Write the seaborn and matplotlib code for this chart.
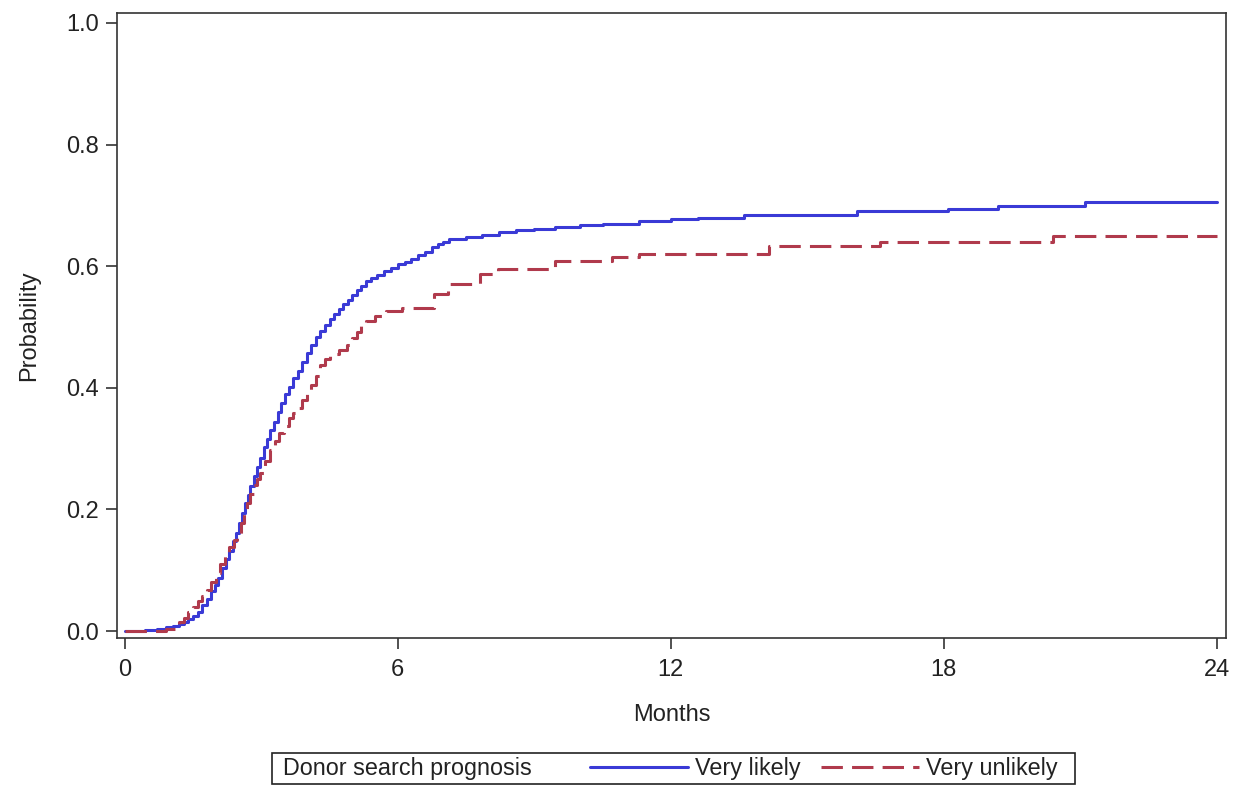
import numpy as np
import pandas as pd
import matplotlib
matplotlib.use("Agg")
import matplotlib.pyplot as plt
import seaborn as sns
from matplotlib.patches import Rectangle

# ---- data ----
likely_months = [0, 0.45, 0.7, 0.9, 1.05, 1.2, 1.3, 1.4, 1.5, 1.6, 1.7, 1.8, 1.9, 1.98,
                 2.06, 2.14, 2.22, 2.3, 2.38, 2.45, 2.52, 2.58, 2.64, 2.7, 2.76, 2.83,
                 2.9, 2.97, 3.05, 3.12, 3.2, 3.28, 3.36, 3.44, 3.52, 3.6, 3.7, 3.8, 3.9,
                 4.0, 4.1, 4.2, 4.3, 4.4, 4.5, 4.6, 4.7, 4.8, 4.9, 5.0, 5.1, 5.2, 5.3,
                 5.42, 5.55, 5.7, 5.85, 6.0, 6.15, 6.3, 6.45, 6.6, 6.75, 6.88, 7.0, 7.13,
                 7.5, 7.86, 8.23, 8.6, 9.0, 9.45, 10.0, 10.5, 11.3, 12.0, 12.6, 13.6,
                 16.1, 18.1, 19.2, 21.1, 24.0]
likely_prob = [0, 0.002, 0.004, 0.006, 0.009, 0.012, 0.015, 0.02, 0.025, 0.032, 0.042,
               0.052, 0.065, 0.075, 0.088, 0.103, 0.118, 0.132, 0.148, 0.162, 0.178,
               0.194, 0.21, 0.224, 0.238, 0.255, 0.27, 0.285, 0.302, 0.316, 0.33, 0.344,
               0.36, 0.375, 0.39, 0.402, 0.416, 0.428, 0.442, 0.457, 0.47, 0.484, 0.494,
               0.503, 0.513, 0.522, 0.53, 0.538, 0.545, 0.552, 0.561, 0.568, 0.575,
               0.58, 0.586, 0.592, 0.597, 0.603, 0.607, 0.612, 0.618, 0.624, 0.631,
               0.636, 0.64, 0.644, 0.648, 0.651, 0.656, 0.659, 0.661, 0.664, 0.667,
               0.670, 0.674, 0.677, 0.680, 0.684, 0.690, 0.694, 0.699, 0.706, 0.706]

unlikely_months = [0, 0.9, 1.1, 1.2, 1.3, 1.4, 1.5, 1.6, 1.7, 1.8, 1.9, 2.0, 2.1, 2.2,
                   2.3, 2.4, 2.47, 2.55, 2.62, 2.69, 2.76, 2.83, 2.9, 2.98, 3.08, 3.2,
                   3.3, 3.4, 3.49, 3.6, 3.7, 3.78, 3.9, 4.0, 4.1, 4.2, 4.3, 4.4, 4.5,
                   4.7, 4.88, 5.0, 5.1, 5.2, 5.31, 5.5, 5.75, 6.1, 6.8, 7.1, 7.8, 8.2,
                   9.45, 10.7, 11.3, 14.15, 16.6, 20.4, 24.0]
unlikely_prob = [0, 0.004, 0.01, 0.015, 0.022, 0.032, 0.04, 0.05, 0.058, 0.067, 0.08,
                 0.095, 0.111, 0.125, 0.138, 0.15, 0.158, 0.178, 0.195, 0.21, 0.226,
                 0.24, 0.25, 0.26, 0.28, 0.298, 0.312, 0.325, 0.337, 0.35, 0.358, 0.366,
                 0.38, 0.392, 0.405, 0.42, 0.437, 0.448, 0.455, 0.462, 0.471, 0.482,
                 0.492, 0.502, 0.51, 0.518, 0.527, 0.532, 0.554, 0.571, 0.587, 0.596,
                 0.609, 0.615, 0.620, 0.634, 0.640, 0.650, 0.650]

group_labels = ["Very likely", "Very unlikely"]
legend_title = "Donor search prognosis"
x_ticks = [0, 6, 12, 18, 24]
y_ticks = [0.0, 0.2, 0.4, 0.6, 0.8, 1.0]

# ---- style ----
sns.set_theme(style="ticks")
plt.rcParams["font.family"] = ["Liberation Sans", "DejaVu Sans"]
FS = 17
edge = "#333333"
txt = "#222222"

fig = plt.figure(figsize=(12.39, 7.86), dpi=100)
ax = fig.add_axes([117 / 1239, 1 - 638 / 786, (1226 - 117) / 1239, (638 - 13) / 786])

blue = "#3a3ad6"
red = "#b03a4c"

sns.lineplot(x=likely_months, y=likely_prob, ax=ax, color=blue, linewidth=2.2,
             drawstyle="steps-post", legend=False, label=group_labels[0])
sns.lineplot(x=unlikely_months, y=unlikely_prob, ax=ax, color=red, linewidth=2.2,
             drawstyle="steps-post", linestyle=(0, (7, 3)), legend=False,
             label=group_labels[1])

ax.set_xlim(-0.17, 24.2)
ax.set_ylim(-0.0115, 1.0164)
ax.set_xticks(x_ticks)
ax.set_xticklabels([str(v) for v in x_ticks])
ax.set_yticks(y_ticks)
ax.set_yticklabels([f"{v:.1f}" for v in y_ticks])
ax.tick_params(axis="both", direction="out", length=8, width=1.2, color=edge,
               labelsize=FS, labelcolor=txt)
ax.tick_params(axis="y", pad=5)
ax.tick_params(axis="x", pad=7)
for s in ax.spines.values():
    s.set_visible(True)
    s.set_color(edge)
    s.set_linewidth(1.2)
ax.set_xlabel("Months", fontsize=FS, color=txt, labelpad=17)
ax.set_ylabel("Probability", fontsize=FS, color=txt, labelpad=19)
ax.grid(False)

# ---- legend (title placed inline, boxed) ----
lfs = 16.8
px = lfs * 100 / 72
handles = ax.get_lines()[:2]
leg = fig.legend(handles, group_labels, loc="center left",
                 bbox_to_anchor=(590 / 1239, 1 - 769 / 786), frameon=False, ncol=2,
                 fontsize=lfs, handlelength=98 / px, handletextpad=7 / px,
                 columnspacing=20 / px, borderpad=0, borderaxespad=0)
for t in leg.get_texts():
    t.set_color(txt)
fig.text(283 / 1239, 1 - 769 / 786, legend_title, fontsize=lfs, ha="left", va="center",
         color=txt)
fig.patches.append(Rectangle((272 / 1239, 1 - 784 / 786), (1075 - 272) / 1239,
                             (784 - 753) / 786, transform=fig.transFigure,
                             fill=False, edgecolor=txt, linewidth=1.2))

fig.savefig("out.png", dpi=100, facecolor="white")
